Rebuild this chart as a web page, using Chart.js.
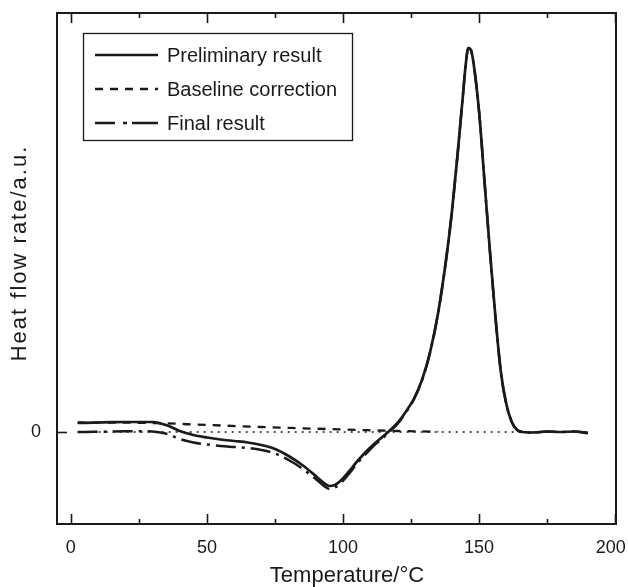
<!DOCTYPE html>
<html><head><meta charset="utf-8">
<script src="https://cdn.jsdelivr.net/npm/chart.js@4.4.1/dist/chart.umd.min.js"></script>
<style>html,body{margin:0;padding:0;background:#fff;}</style>
</head><body>
<canvas id="c" width="628" height="587" style="width:628px;height:587px;display:block"></canvas>
<script>
// ---- data ----
const temps = [2.5,5,10,15,20,25,30,33,36,40,45,50,55,60,65,70,75,80,85,90,93,95,97,99,102,105,108,111,114,117,120,123,126,129,132,135,138,140,142,144,145,146,147,148,150,152,154,156,158,160,162,164,166,170,175,180,185,190];
const preliminary = [0.9,0.92,0.95,0.98,1.0,1.0,1.0,0.85,0.6,0.1,-0.3,-0.55,-0.75,-0.9,-1.05,-1.3,-1.7,-2.4,-3.3,-4.4,-5.1,-5.4,-5.3,-4.9,-4.0,-3.0,-2.1,-1.3,-0.6,0.1,0.9,2.0,3.3,5.2,8.0,12.0,17.5,22.0,27.5,33.5,36.5,38.4,38.2,36.8,32.0,25.0,18.0,11.5,6.0,2.8,1.0,0.2,0.0,-0.05,0.05,0.0,0.05,-0.1];
const finalResult = [0.0,0.0,0.02,0.05,0.07,0.08,0.05,-0.05,-0.25,-0.7,-1.05,-1.25,-1.4,-1.5,-1.6,-1.8,-2.15,-2.8,-3.65,-4.7,-5.4,-5.7,-5.55,-5.15,-4.25,-3.2,-2.3,-1.45,-0.75,0.0,0.8,1.92,3.24,5.15,7.96,12.0,17.5,22.0,27.5,33.5,36.5,38.4,38.2,36.8,32.0,25.0,18.0,11.5,6.0,2.8,1.0,0.2,0.0,-0.05,0.05,0.0,0.05,-0.1];
const baselineTemps = [2.5,30,50,70,90,106,120,135];
const baseline = [0.95,0.9,0.7,0.5,0.33,0.2,0.1,0.03];
const zeroTemps = [2.5,190];
const zeroLine = [0,0];
const xTickValues = [0,50,100,150,200];
const xMinorTickValues = [25,75,125,175];
const yTickValues = [0];
const legendLabels = ['Preliminary result','Baseline correction','Final result'];
const xTitle = 'Temperature/°C';
const yTitle = 'Heat flow rate/a.u.';

const FONT = '"Liberation Sans", Arial, sans-serif';
const INK = '#1a1a1a';
const pts = (xs, ys) => xs.map((x,i)=>({x:x,y:ys[i]}));

const styles = [
  {borderWidth:2.7, borderDash:[], legendDash:[]},
  {borderWidth:2.3, borderDash:[8,7], legendDash:[8,7]},
  {borderWidth:2.5, borderDash:[20,6,3,6], legendDash:[20,8,4,5,26,10]}
];

const noPad = s => { s.paddingTop = 0; s.paddingBottom = 0; s.paddingLeft = 0; s.paddingRight = 0; };

const framePlugin = {
  id:'frame',
  afterDatasetsDraw(chart){
    const ctx = chart.ctx, a = chart.chartArea;
    const xs = chart.scales.x, ys = chart.scales.y;
    ctx.save();
    ctx.strokeStyle = INK; ctx.lineWidth = 2; ctx.setLineDash([]);
    ctx.strokeRect(a.left, a.top, a.right-a.left, a.bottom-a.top);
    ctx.lineWidth = 1.6;
    const tick = (v,len)=>{
      const px = Math.round(xs.getPixelForValue(v))+0.5;
      ctx.beginPath(); ctx.moveTo(px,a.bottom); ctx.lineTo(px,a.bottom-len);
      ctx.moveTo(px,a.top); ctx.lineTo(px,a.top+len); ctx.stroke();
    };
    xTickValues.forEach(v=>tick(v,10));
    xMinorTickValues.forEach(v=>tick(v,5));
    yTickValues.forEach(v=>{
      const py = Math.round(ys.getPixelForValue(v))+0.5;
      ctx.beginPath(); ctx.moveTo(a.left,py); ctx.lineTo(a.left+10,py); ctx.stroke();
    });
    // legend
    ctx.lineWidth = 1.3;
    ctx.strokeRect(83.5,33.5,269,107);
    ctx.font = '20px '+FONT; ctx.fillStyle = INK; ctx.textBaseline='middle'; ctx.textAlign='left';
    legendLabels.forEach((lab,i)=>{
      const y = 55 + i*34;
      const st = styles[i];
      ctx.lineWidth = st.borderWidth; ctx.setLineDash(st.legendDash);
      ctx.beginPath(); ctx.moveTo(95,y); ctx.lineTo(158,y); ctx.stroke();
      ctx.setLineDash([]);
      ctx.fillText(lab,167,y+1);
    });
    // x title
    ctx.textAlign='center'; ctx.font = '22px '+FONT;
    ctx.fillText(xTitle, 347, 576);
    // y title
    ctx.translate(20, 253); ctx.rotate(-Math.PI/2);
    try { ctx.letterSpacing = '2px'; } catch(e) {}
    ctx.fillText(yTitle,0,0);
    ctx.restore();
  }
};

new Chart(document.getElementById('c'), {
  type:'line',
  data:{datasets:[
    {label:legendLabels[0], data:pts(temps,preliminary), borderColor:INK, borderWidth:styles[0].borderWidth, borderDash:styles[0].borderDash, pointRadius:0, cubicInterpolationMode:'monotone', fill:false},
    {label:legendLabels[1], data:pts(baselineTemps,baseline), borderColor:INK, borderWidth:styles[1].borderWidth, borderDash:styles[1].borderDash, pointRadius:0, cubicInterpolationMode:'monotone', fill:false},
    {label:legendLabels[2], data:pts(temps,finalResult), borderColor:INK, borderWidth:styles[2].borderWidth, borderDash:styles[2].borderDash, pointRadius:0, cubicInterpolationMode:'monotone', fill:false},
    {label:'zero', data:pts(zeroTemps,zeroLine), borderColor:INK, borderWidth:1.5, borderDash:[2,5], pointRadius:0, fill:false}
  ]},
  options:{
    responsive:false, animation:false, devicePixelRatio:1,
    layout:{padding:{top:13,right:12,left:0,bottom:0}},
    plugins:{legend:{display:false}, tooltip:{enabled:false}},
    scales:{
      x:{type:'linear', min:-5.1, max:200.3,
        afterBuildTicks:s=>{s.ticks = xTickValues.map(v=>({value:v}));},
        afterFit:s=>{s.height = 63; noPad(s);},
        grid:{display:false}, border:{display:false},
        ticks:{font:{family:FONT,size:18}, color:INK, padding:5, maxRotation:0, autoSkip:false,
          callback:(v)=> v===200 ? '200\u2002' : String(v)},
        title:{display:false}
      },
      y:{type:'linear', min:-9.2, max:41.9,
        afterBuildTicks:s=>{s.ticks = yTickValues.map(v=>({value:v}));},
        afterFit:s=>{s.width = 57; noPad(s);},
        grid:{display:false}, border:{display:false},
        ticks:{font:{family:FONT,size:18}, color:INK, padding:8}
      }
    }
  },
  plugins:[framePlugin]
});
</script>
</body></html>
